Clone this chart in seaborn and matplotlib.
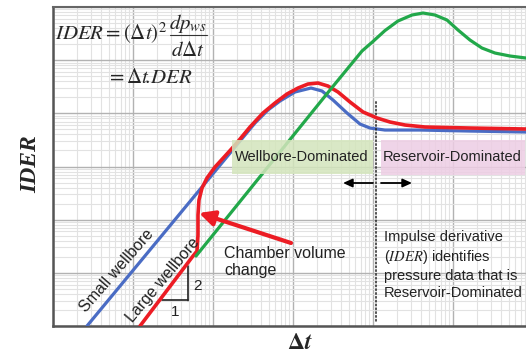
import numpy as np
import pandas as pd
import matplotlib
matplotlib.use("Agg")
import matplotlib.pyplot as plt
import seaborn as sns
from matplotlib.ticker import LogLocator, NullFormatter
from matplotlib.patches import Rectangle
from matplotlib.lines import Line2D
from matplotlib.transforms import IdentityTransform

# ---- data (log-log impulse derivative curves) ----
small_dt = [0.00266, 0.2175, 0.335, 0.487, 0.688, 1.059, 1.679, 2.304, 3.162,
            4.73, 6.88, 9.17, 14.1, 38.7, 163, 817]
small_ider = [0.01, 30.1, 65.8, 115.5, 170.6, 251.9, 299.2, 263, 178.1,
              101.4, 62.9, 52.9, 48.5, 48.5, 46.4, 44.5]

large_dt = [0.01224, 0.0562, 0.0631, 0.0649, 0.0649, 0.0668, 0.0729, 0.0841,
            0.1059, 0.1413, 0.1884, 0.290, 0.4217, 0.5957, 0.841, 1.155, 1.540,
            2.054, 2.738, 3.652, 5.158, 7.50, 11.22, 16.3, 25.1, 44.7, 163, 817]
large_ider = [0.01, 0.207, 0.257, 0.515, 1.224, 2.343, 3.94, 6.07,
              9.77, 15.7, 25.3, 55.3, 101.4, 156.3, 231, 299, 356,
              371.5, 326, 252, 163.3, 106, 81.7, 68.7, 60.3, 55.3, 52.9, 50.7]

ideal_dt = [0.0613, 0.4217, 2.90, 7.29, 10.0, 14.1, 20.5, 30.7, 42.2, 59.6,
            84.1, 115.5, 163, 230, 335, 516, 817]
ideal_ider = [0.207, 7.55, 274.6, 1486, 2250, 3600, 5450, 7066, 7708, 7066,
              5689, 3690, 2393, 1692, 1362, 1197, 1098]

BLUE = "#4a6cc4"
RED = "#ec1c24"
GREEN = "#22a84a"
INK = "#222222"

sns.set_style("white")
plt.rcParams["mathtext.fontset"] = "stix"
plt.rcParams["font.family"] = ["Liberation Sans", "DejaVu Sans"]

W, H = 526, 357
fig = plt.figure(figsize=(W / 100, H / 100), dpi=100)
ax = fig.add_axes([53 / W, (H - 326) / H, (W - 53) / W, (326 - 7) / H])


def P(x, y):
    """Figure pixel position measured from the top-left corner."""
    return (x, H - y)


def F(x, y):
    """Figure fraction for a pixel position measured from the top-left corner."""
    return (x / W, 1 - y / H)


small = pd.DataFrame({"dt": small_dt, "ider": small_ider})
large = pd.DataFrame({"dt": large_dt, "ider": large_ider})
ideal = pd.DataFrame({"dt": ideal_dt, "ider": ideal_ider})

sns.lineplot(data=small, x="dt", y="ider", ax=ax, color=BLUE, lw=2.3,
             estimator=None, sort=False, zorder=3)
sns.lineplot(data=large, x="dt", y="ider", ax=ax, color=RED, lw=2.6,
             estimator=None, sort=False, zorder=4)
sns.lineplot(data=ideal, x="dt", y="ider", ax=ax, color=GREEN, lw=2.3,
             estimator=None, sort=False, zorder=5)

ax.set_xscale("log")
ax.set_yscale("log")
ax.set_xlim(1e-3, 10 ** 2.9125)
ax.set_ylim(1e-2, 1e4)

for axis in (ax.xaxis, ax.yaxis):
    axis.set_major_locator(LogLocator(base=10, numticks=20))
    axis.set_minor_locator(LogLocator(base=10, subs=np.arange(2, 10), numticks=200))
    axis.set_minor_formatter(NullFormatter())
ax.tick_params(which="both", length=0, labelbottom=False, labelleft=False)
ax.grid(which="major", color="#b2b2b2", lw=1.0, zorder=0)
ax.grid(which="minor", color="#e2e2e2", lw=0.8, zorder=0)
ax.set_axisbelow(True)
ax.set_xlabel("")
ax.set_ylabel("")

for side in ("left", "bottom"):
    ax.spines[side].set_color("#555555")
    ax.spines[side].set_linewidth(1.8)
ax.spines["top"].set_color("#666666")
ax.spines["top"].set_linewidth(1.5)
ax.spines["right"].set_visible(False)

# axis titles
fig.text(*F(31, 164), "IDER", rotation=90, ha="center", va="center",
         family="Liberation Serif", weight="bold", style="italic", fontsize=17)
fig.text(*F(300, 343), r"$\mathbf{\Delta}\boldsymbol{t}$", ha="center",
         va="center", fontsize=17)

# definition of the impulse derivative
EQ = 15
fig.text(*F(55, 40), r"$IDER = \left(\Delta t\right)^{2}$", ha="left",
         va="baseline", fontsize=EQ)
fig.text(*F(188, 29), r"$dp_{ws}$", ha="center", va="baseline", fontsize=EQ)
fig.lines.append(Line2D([170 / W, 207 / W], [1 - 34.5 / H, 1 - 34.5 / H],
                        transform=fig.transFigure, color="#333333", lw=0.8))
fig.text(*F(188, 56), r"$d\Delta t$", ha="center", va="baseline", fontsize=EQ)
fig.text(*F(106, 83), r"$= \Delta t\!\mathrm{.}\!DER$", ha="left",
         va="baseline", fontsize=EQ)

# regime boxes
ident = IdentityTransform()
for (x0, y0, x1, y1, col) in [(232, 140, 373, 174, "#d3e5bc"),
                              (381, 140, 525, 175, "#edcde4")]:
    fig.patches.append(Rectangle(P(x0, y1), x1 - x0, y1 - y0, transform=ident,
                                 facecolor=col, edgecolor="none", alpha=0.85,
                                 zorder=6))
fig.text(*F(302, 157), "Wellbore-Dominated", ha="center", va="center",
         fontsize=10.5, color=INK, zorder=7)
fig.text(*F(452, 157), "Reservoir-Dominated", ha="center", va="center",
         fontsize=10.5, color=INK, zorder=7)

# boundary between regimes
ax.annotate("", xy=P(376, 326), xytext=P(376, 99), xycoords="figure pixels",
            textcoords="figure pixels",
            arrowprops=dict(arrowstyle="-", ls=(0, (1, 1.5)), lw=1.1, color=INK))
ax.annotate("", xy=P(343, 183), xytext=P(373, 183), xycoords="figure pixels",
            textcoords="figure pixels",
            arrowprops=dict(arrowstyle="-|>,head_length=0.55,head_width=0.25",
                            lw=1.3, color="black", shrinkA=0, shrinkB=0))
ax.annotate("", xy=P(412, 183), xytext=P(381, 183), xycoords="figure pixels",
            textcoords="figure pixels",
            arrowprops=dict(arrowstyle="-|>,head_length=0.55,head_width=0.25",
                            lw=1.3, color="black", shrinkA=0, shrinkB=0))

# wellbore labels along the unit-slope lines
fig.text(*F(117, 271), "Small wellbore", rotation=49, ha="center",
         va="center", fontsize=11.5, color=INK, rotation_mode="anchor")
fig.text(*F(163, 280), "Large wellbore", rotation=50, ha="center",
         va="center", fontsize=11.5, color=INK, rotation_mode="anchor")

# slope triangle
ax.annotate("", xy=P(188, 300), xytext=P(162, 300), xycoords="figure pixels",
            textcoords="figure pixels",
            arrowprops=dict(arrowstyle="-", lw=1.2, color=INK,
                            shrinkA=0, shrinkB=0))
ax.annotate("", xy=P(188, 266), xytext=P(188, 300.5), xycoords="figure pixels",
            textcoords="figure pixels",
            arrowprops=dict(arrowstyle="-", lw=1.2, color=INK,
                            shrinkA=0, shrinkB=0))
fig.text(*F(175, 312), "1", ha="center", va="center", fontsize=11, color=INK)
fig.text(*F(198, 286), "2", ha="center", va="center", fontsize=11, color=INK)

# chamber volume change callout
fig.text(*F(224, 262), "Chamber volume\nchange", ha="left",
         va="center", fontsize=11.5, color=INK, linespacing=1.25)
ax.annotate("", xy=P(199, 213), xytext=P(291, 243), xycoords="figure pixels",
            textcoords="figure pixels",
            arrowprops=dict(arrowstyle="-|>,head_length=0.9,head_width=0.45",
                            lw=3.0, color=RED, shrinkA=0, shrinkB=0),
            zorder=8)

# impulse derivative note
fig.text(*F(384, 265),
         "Impulse derivative\n($\\mathit{IDER}$) identifies\npressure data that is\nReservoir-Dominated",
         ha="left", va="center", fontsize=10.5, color=INK, linespacing=1.3)

fig.savefig("out.png", dpi=100)
